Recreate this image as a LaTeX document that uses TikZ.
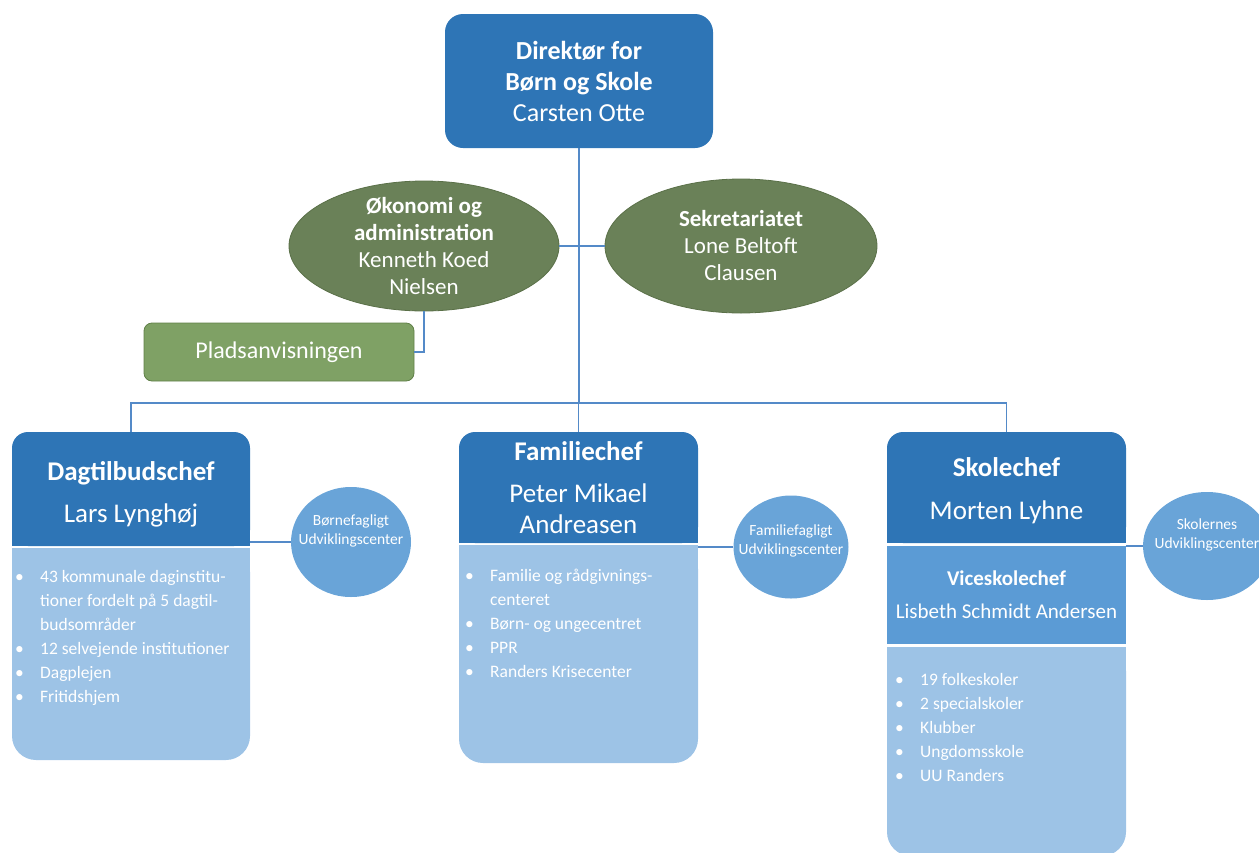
\documentclass[tikz,border=0pt]{standalone}
\usepackage{fontspec}
\setmainfont{Carlito}
\usetikzlibrary{shapes.geometric,positioning}

\definecolor{hdrblue}{RGB}{46,117,182}
\definecolor{bodyblue}{RGB}{157,195,230}
\definecolor{viceblue}{RGB}{91,155,213}
\definecolor{ucblue}{RGB}{105,164,216}
\definecolor{olive}{RGB}{106,129,88}
\definecolor{oliveedge}{RGB}{90,112,72}
\definecolor{plgreen}{RGB}{127,161,101}
\definecolor{pledge}{RGB}{96,128,72}
\definecolor{linkblue}{RGB}{84,138,200}

\newcommand{\bitem}[1]{\makebox[25pt][l]{\textbullet}#1}
\newcommand{\bcont}[1]{\hspace*{25pt}#1}

\begin{document}
\begin{tikzpicture}[x=1pt, y=-1pt,
    head/.style={fill=hdrblue, rounded corners=16pt, text=white, align=center, inner sep=0pt, minimum width=238pt},
    headfix/.style={fill=hdrblue},
    body/.style={fill=bodyblue, rounded corners=24pt, inner sep=0pt, minimum width=238pt},
    bodyfix/.style={fill=bodyblue},
    items/.style={text=white, align=left, inner sep=0pt, anchor=north west, font=\fontsize{17.5}{24}\selectfont},
    oval/.style={ellipse, fill=olive, draw=oliveedge, line width=0.8pt, inner sep=0pt},
    ovaltext/.style={text=white, align=center, font=\fontsize{23}{27}\selectfont},
    uc/.style={ellipse, fill=ucblue, inner sep=0pt},
    uctext/.style={text=white, align=center, font=\fontsize{15.5}{19.5}\selectfont},
    link/.style={draw=linkblue, line width=1.5pt}]
    \useasboundingbox (0,0) rectangle (1259,852);
    \clip (0,0) rectangle (1259,852);
    % Director
    \node[head, rounded corners=18pt, minimum width=268pt, minimum height=134pt, font=\fontsize{26}{31}\selectfont] (dir) at (579,81) {\textbf{Direktør for}\\\textbf{Børn og Skole}\\Carsten Otte};
    % Staff functions
    \node[oval, minimum width=270pt, minimum height=130pt] (oko) at (424,246) {};
    \node[ovaltext] (okotxt) at (oko) {\textbf{Økonomi og}\\\textbf{administration}\\Kenneth Koed\\Nielsen};
    \node[oval, minimum width=272pt, minimum height=134pt] (sek) at (741,246) {};
    \node[ovaltext] (sektxt) at (sek) {\textbf{Sekretariatet}\\Lone Beltoft\\Clausen};
    \node[fill=plgreen, draw=pledge, line width=0.8pt, rounded corners=8pt, minimum width=270pt, minimum height=58pt, text=white, font=\fontsize{24}{28}\selectfont] (plads) at (279,352) {Pladsanvisningen};
    % Dagtilbud
    \fill[headfix] (12,500) rectangle (250,546);
    \node[head, minimum height=114pt, font=\fontsize{27}{32}\selectfont] (dag) at (131,489) {\rule{0pt}{29pt}\textbf{Dagtilbudschef}\\[10pt]Lars Lynghøj};
    \fill[bodyfix] (12,548) rectangle (250,600);
    \node[body, minimum height=212pt] (dagbody) at (131,654) {};
    \node[items] (dagitems) at (15,570) {\bitem{43 kommunale daginstitu-}\\\bcont{tioner fordelt på 5 dagtil-}\\\bcont{budsområder}\\\bitem{12 selvejende institutioner}\\\bitem{Dagplejen}\\\bitem{Fritidshjem}};
    % Familie
    \fill[headfix] (459,500) rectangle (698,543);
    \node[head, minimum width=239pt, minimum height=111pt, font=\fontsize{27}{31}\selectfont] (fam) at (578.5,487.5) {\textbf{Familiechef}\\[11pt]Peter Mikael\\Andreasen};
    \fill[bodyfix] (459,545) rectangle (698,600);
    \node[body, minimum width=239pt, minimum height=218pt] (fambody) at (578.5,654) {};
    \node[items] (famitems) at (465,569) {\bitem{Familie og rådgivnings-}\\\bcont{centeret}\\\bitem{Børn- og ungecentret}\\\bitem{PPR}\\\bitem{Randers Krisecenter}};
    % Skole
    \fill[headfix] (887,500) rectangle (1126,543);
    \node[head, minimum width=239pt, minimum height=111pt, font=\fontsize{27}{31}\selectfont] (skole) at (1006.5,487.5) {\rule{0pt}{26pt}\textbf{Skolechef}\\[12pt]Morten Lyhne};
    \node[fill=viceblue, minimum width=239pt, minimum height=98pt, inner sep=0pt, text=white, align=center, font=\fontsize{21}{26}\selectfont] (vice) at (1006.5,595) {\textbf{Viceskolechef}\\[7pt]Lisbeth Schmidt Andersen};
    \fill[bodyfix] (887,647) rectangle (1126,700);
    \node[body, minimum width=239pt, minimum height=209pt] (skolebody) at (1006.5,751.5) {};
    \node[items] (skoleitems) at (895,673) {\bitem{19 folkeskoler}\\\bitem{2 specialskoler}\\\bitem{Klubber}\\\bitem{Ungdomsskole}\\\bitem{UU Randers}};
    % Udviklingscentre
    \node[uc, minimum width=120pt, minimum height=110pt] (bfuc) at (351,542) {};
    \node[uctext, yshift=11pt] (bfuctxt) at (bfuc) {Børnefagligt\\Udviklingscenter};
    \node[uc, minimum width=115pt, minimum height=103pt] (ffuc) at (791,547) {};
    \node[uctext, yshift=6pt] (ffuctxt) at (ffuc) {Familiefagligt\\Udviklingscenter};
    \node[uc, minimum width=128pt, minimum height=108pt] (skuc) at (1207,546) {};
    \node[uctext, yshift=11pt] (skuctxt) at (skuc) {Skolernes\\Udviklingscenter};
    % Draw connectors
    \coordinate (bus) at (579,403);
    \draw[link] (dir.south) -- (dir.south |- bus);
    \draw[link] (dag.north) |- (bus) -| (skole.north);
    \draw[link] (fam.north) -- (fam.north |- bus);
    \draw[link] (oko.east) -- (sek.west);
    \draw[link] (oko.south) |- (plads.east);
    \draw[link] (bfuc.west) -- (bfuc.west -| dag.east);
    \draw[link] (ffuc.west) -- (ffuc.west -| fam.east);
    \draw[link] (skuc.west) -- (skuc.west -| skole.east);
\end{tikzpicture}
\end{document}
